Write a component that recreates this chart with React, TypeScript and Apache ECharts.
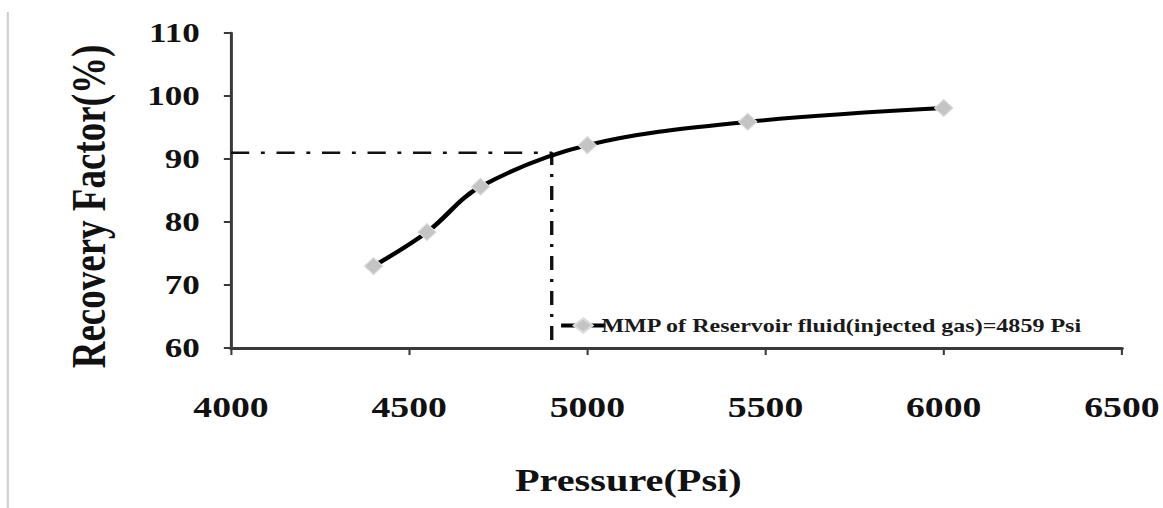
import React, { useEffect, useRef } from "react";
import * as echarts from "echarts";

const pressure = [4400, 4550, 4700, 5000, 5450, 6000];
const recovery = [73.0, 78.4, 85.6, 92.2, 95.9, 98.1];
const mmpGuideX = [4000, 4900, 4900];
const mmpGuideY = [91, 91, 60];
const seriesName = "MMP of Reservoir fluid(injected gas)=4859 Psi";
const xTitle = "Pressure(Psi)";
const yTitle = "Recovery Factor(%)";

const FONT = "'Liberation Serif', 'Times New Roman', serif";
const SX = 1.3; // the reference is stretched horizontally
const W = 1163 / SX;

export default function App() {
  const ref = useRef<HTMLDivElement>(null);
  useEffect(() => {
    document.body.style.margin = "0";
    const chart = echarts.init(ref.current!, null, { renderer: "svg" });
    chart.setOption({
      animation: false,
      backgroundColor: "#ffffff",
      grid: { left: 231 / SX, right: 38 / SX, top: 33, bottom: 160 },
      legend: {
        data: [seriesName],
        left: 552 / SX,
        top: 311,
        itemWidth: 34,
        itemHeight: 18,
        itemGap: 0,
        lineStyle: { width: 4, color: "#000" },
        textStyle: { fontFamily: FONT, fontWeight: "bold", fontSize: 18.5, color: "#1a1a1a", padding: [0, 0, 0, -8] },
      },
      graphic: [
        {
          type: "line",
          shape: { x1: 6, y1: 12, x2: 6, y2: 508 },
          style: { stroke: "#cfcfcf", lineWidth: 1.6 },
          silent: true,
        },
      ],
      xAxis: {
        type: "value",
        min: 4000,
        max: 6500,
        interval: 500,
        name: xTitle,
        nameLocation: "middle",
        nameGap: 117,
        nameTextStyle: { fontFamily: FONT, fontWeight: "bold", fontSize: 31, color: "#111", padding: [0, 74, 0, 0] },
        axisLine: { onZero: false, lineStyle: { color: "#3a3a3a", width: 3 } },
        axisTick: { show: true, length: 7, lineStyle: { color: "#3a3a3a", width: 1.6 } },
        axisLabel: {
          margin: 45,
          fontFamily: FONT,
          fontWeight: "bold",
          fontSize: 29,
          color: "#111",
          formatter: (v: number) => String(v),
        },
        splitLine: { show: false },
      },
      yAxis: {
        type: "value",
        min: 60,
        max: 110,
        interval: 10,
        name: yTitle,
        nameLocation: "middle",
        nameGap: 91,
        nameRotate: 90,
        nameTextStyle: { fontFamily: FONT, fontWeight: "bold", fontSize: 37, color: "#111", padding: [0, 32, 0, 0] },
        axisLine: { show: true, lineStyle: { color: "#3a3a3a", width: 2.3 } },
        axisTick: { show: true, length: 5.5, lineStyle: { color: "#3a3a3a", width: 2 } },
        axisLabel: { margin: 24, fontFamily: FONT, fontWeight: "bold", fontSize: 27, color: "#111" },
        splitLine: { show: false },
      },
      series: [
        {
          name: "guide",
          type: "line",
          data: mmpGuideX.map((x, i) => [x, mmpGuideY[i]]),
          symbol: "none",
          silent: true,
          lineStyle: { color: "#111", width: 2.6, type: [14, 9, 3, 9] },
          z: 1,
        },
        {
          name: seriesName,
          type: "line",
          data: pressure.map((x, i) => [x, recovery[i]]),
          smooth: 0.35,
          symbol: "diamond",
          symbolSize: [14, 17],
          lineStyle: { color: "#000", width: 4 },
          itemStyle: { color: "#c4c4c4", borderColor: "#dcdcdc", borderWidth: 1 },
          z: 3,
        },
      ],
    });
    return () => chart.dispose();
  }, []);
  return (
    <div style={{ width: 1163, height: 508, overflow: "hidden", position: "relative" }}>
      <div
        ref={ref}
        style={{ width: W, height: 508, transform: `scaleX(${SX})`, transformOrigin: "0 0" }}
      />
    </div>
  );
}
